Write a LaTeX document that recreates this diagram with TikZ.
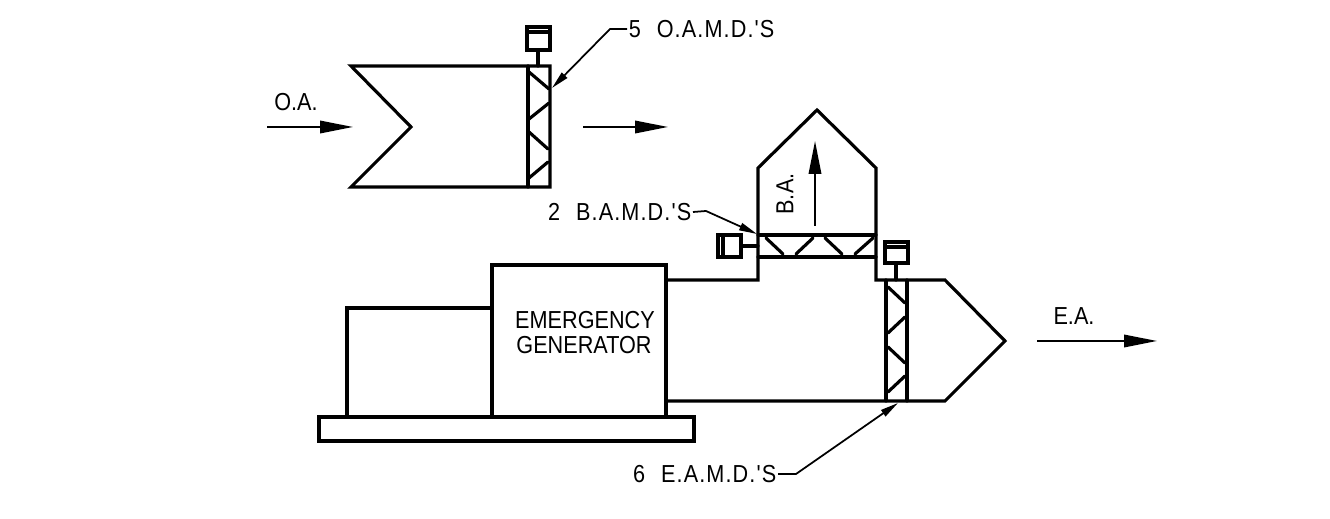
\documentclass[tikz,border=0pt]{standalone}
\usepackage{fontspec}
\usepackage{tikz}
\usetikzlibrary{arrows.meta}
\newfontfamily\cadfont[FakeStretch=0.88]{Liberation Sans}
\tikzset{
  wall/.style  ={line width=1.8pt,line join=miter,line cap=round},
  damper/.style={line width=1.8pt,line cap=round},
  lead/.style  ={line width=1pt,-{Triangle[length=3.6mm,width=1.5mm]}},
  flow/.style  ={line width=1.1pt,-{Triangle[length=6.6mm,width=2.5mm]}},
  txt/.style   ={font=\cadfont\fontsize{14}{16}\selectfont,inner sep=0pt},
  tag/.style   ={txt,outer sep=1pt,font=\cadfont\fontsize{14}{16}\selectfont\addfontfeature{LetterSpace=4.5}},
}
\begin{document}
\begin{tikzpicture}[x=0.02cm,y=-0.02cm]
 \useasboundingbox (0,0) rectangle (1330,519);
 % outside air housing
 \draw[wall] (351,66) -- (550,66) -- (550,187) -- (351,187) -- (411,127) -- cycle;
 \draw[wall] (528,66) -- (528,187);
 \foreach \xa/\ya/\xb/\yb in {529/72/549/89,549/103/529/119,529/132/548/149,548/162/529/178}
   {\draw[damper] (\xa,\ya) -- (\xb,\yb);}
 \draw[wall] (527,27) rectangle (550,50);
 \draw[wall] (527,32) -- (550,32);
 \draw[wall] (538,50) -- (538,66);
 % bypass and exhaust duct
 \draw[wall] (666,280) -- (758,280) -- (758,168) -- (817,110) -- (876,168) -- (876,280)
   -- (945,280) -- (1005,341) -- (945,401) -- (666,401);
 \draw[wall] (758,235) -- (876,235);
 \draw[wall] (758,257) -- (876,257);
 \foreach \xa/\ya/\xb/\yb in {766/238/783/254,813/238/796/254,825/238/842/254,873/238/855/254}
   {\draw[damper] (\xa,\ya) -- (\xb,\yb);}
 \draw[wall] (718,235) rectangle (741,257);
 \draw[wall] (723,235) -- (723,257);
 \draw[wall] (741,246) -- (758,246);
 \draw[wall] (886,280) -- (886,401);
 \draw[wall] (907,280) -- (907,401);
 \foreach \xa/\ya/\xb/\yb in {888/287/905/303,905/317/888/333,888/347/905/363,905/376/888/392}
   {\draw[damper] (\xa,\ya) -- (\xb,\yb);}
 \draw[wall] (885,242) rectangle (908,263);
 \draw[wall] (885,247) -- (908,247);
 \draw[wall] (896,263) -- (896,280);
 % generator set
 \draw[wall] (319,417) rectangle (694,441);
 \draw[wall] (492,265) rectangle (666,417);
 \draw[wall] (492,308) -- (347,308) -- (347,417);
 \node[txt] (emer) at (585,320) {EMERGENCY};
 \node[txt] (gen) at (584,345) {GENERATOR};
 % air flows
 \coordinate (oaa) at (267,127);
 \coordinate (oab) at (353,127);
 \coordinate (oac) at (583,127);
 \coordinate (oad) at (668,127);
 \coordinate (baa) at (815,226);
 \coordinate (bab) at (815,141);
 \coordinate (eaa) at (1037,341);
 \coordinate (eab) at (1157,341);
 \draw[flow] (oaa) -- (oab);
 \draw[flow] (oac) -- (oad);
 \draw[flow] (baa) -- (bab);
 \draw[flow] (eaa) -- (eab);
 \node[txt] (oa) at (296,102) {O.A.};
 \node[txt,rotate=90] (ba) at (785,194) {B.A.};
 \node[txt] (ea) at (1074,316) {E.A.};
 % leaders
 \node[tag,anchor=west] (oamd) at (627,29) {5\hspace{0.65em}O.A.M.D.'S};
 \node[tag,anchor=east] (bamd) at (693,212) {2\hspace{0.65em}B.A.M.D.'S};
 \node[tag,anchor=east] (eamd) at (778,474) {6\hspace{0.65em}E.A.M.D.'S};
 \coordinate (oamdend) at (552,88);
 \coordinate (bamdend) at (757,234);
 \coordinate (eamdend) at (898,403);
 \draw[lead] (oamd.west) -- (610,29) -- (oamdend);
 \draw[lead] (bamd.east) -- (706,211) -- (bamdend);
 \draw[lead] (eamd.east) -- (796,474) -- (eamdend);
\end{tikzpicture}
\end{document}
